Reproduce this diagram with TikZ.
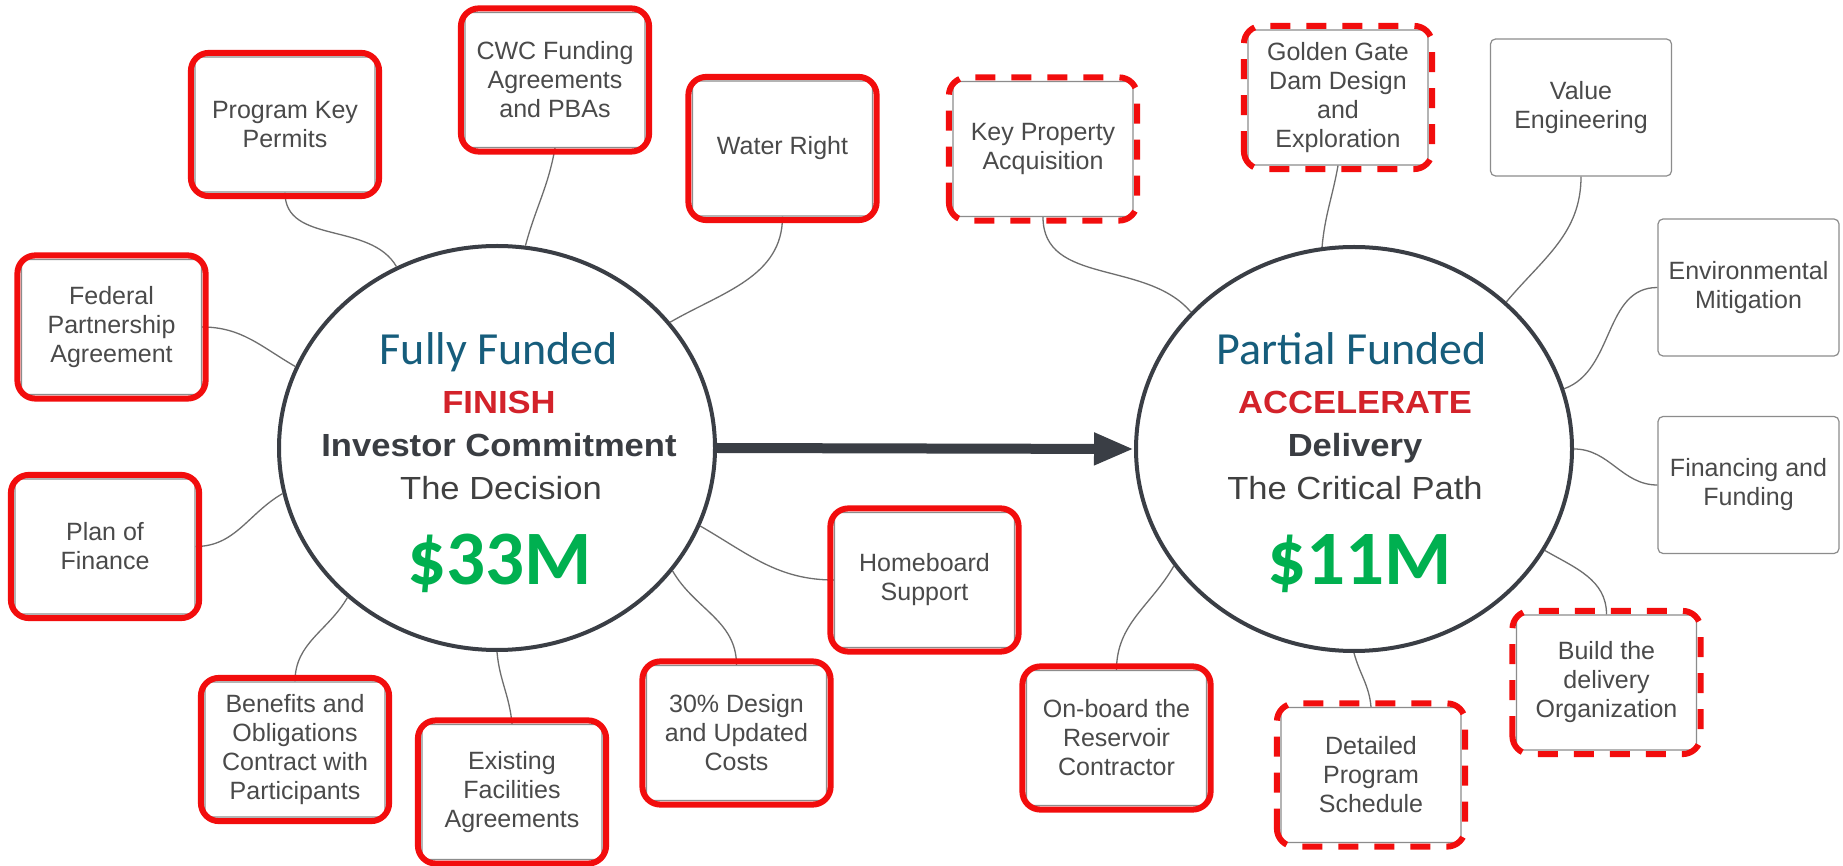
\documentclass[tikz,border=0pt]{standalone}
\usepackage{fontspec}
\setmainfont{Liberation Sans}
\newfontfamily\boxfont{Liberation Sans}
\newfontfamily\circfont[FakeStretch=1.08]{Liberation Sans}
\newfontfamily\calfont{Carlito}
\usetikzlibrary{shapes.geometric,arrows.meta}
\definecolor{boxgray}{HTML}{8C8C8C}
\definecolor{boxtext}{HTML}{4A4A4A}
\definecolor{frred}{HTML}{F20D0D}
\definecolor{circline}{HTML}{3A3E45}
\definecolor{conn}{HTML}{6E6E6E}
\definecolor{teal}{HTML}{165D7C}
\definecolor{finred}{HTML}{D3222A}
\definecolor{darktx}{HTML}{3A3D42}
\definecolor{regtx}{HTML}{404040}
\definecolor{money}{HTML}{00B050}
\newcommand\rframe[2]{\draw[#1] ([shift={(-3.5,-3.5)}]#2.south west) rectangle ([shift={(3.5,3.5)}]#2.north east);}
\tikzset{
  box/.style={draw=boxgray, line width=1.2pt, rounded corners=5pt, fill=white,
    minimum width=180pt, minimum height=135pt, align=center, inner sep=0pt,
    text=boxtext, font=\boxfont\fontsize{25}{29}\selectfont},
  graybox/.style={box, minimum width=181pt, minimum height=137pt},
  rsolid/.style={draw=frred, line width=6pt, rounded corners=18pt},
  rdash/.style={rsolid, dash pattern=on 20pt off 16pt},
  hub/.style={ellipse, draw=circline, line width=4pt, fill=white,
    minimum width=436pt, minimum height=404pt, inner sep=0pt},
  link/.style={draw=conn, line width=1.3pt},
  bigarrow/.style={draw=circline, line width=10pt, -{Triangle[length=40pt,width=30pt]}},
  tfund/.style={anchor=base, text=teal, font=\calfont\fontsize{46}{46}\selectfont},
  tkey/.style={anchor=base, text=finred, font=\circfont\bfseries\fontsize{32}{32}\selectfont},
  tbold/.style={anchor=base, text=darktx, font=\circfont\bfseries\fontsize{32}{32}\selectfont},
  treg/.style={anchor=base, text=regtx, font=\circfont\fontsize{32}{32}\selectfont},
  tmoney/.style={anchor=base, text=money, font=\calfont\bfseries\fontsize{77}{77}\selectfont},
}
\begin{document}
\begin{tikzpicture}[x=1pt,y=1pt]
\useasboundingbox (0,0) rectangle (1843,865);
\fill[white] (0,0) rectangle (1843,865);

% hubs
\node[hub] (L) at (497,417) {};
\node[hub] (R) at (1354,416) {};

% boxes
\node[box] (pkp) at (285,740.5) {Program Key\\Permits};
\node[box] (cwc) at (555,785) {CWC Funding\\Agreements\\and PBAs};
\node[box] (water) at (782.5,716.5) {Water Right};
\node[box] (fed) at (111.5,538) {Federal\\Partnership\\Agreement};
\node[box] (plan) at (105,318.5) {Plan of\\Finance};
\node[box] (ben) at (295,115.5) {Benefits and\\Obligations\\Contract with\\Participants};
\node[box] (exist) at (512,73) {Existing\\Facilities\\Agreements};
\node[box] (des) at (736.5,132) {30\% Design\\and Updated\\Costs};
\node[box] (home) at (924.5,285) {Homeboard\\Support};
\node[box] (kpa) at (1043,716) {Key Property\\Acquisition};
\node[box] (gg) at (1338,767.5) {Golden Gate\\Dam Design\\and\\Exploration};
\node[graybox] (ve) at (1581,757.5) {Value\\Engineering};
\node[graybox] (env) at (1748.5,577.5) {Environmental\\Mitigation};
\node[graybox] (fin) at (1748.5,380) {Financing and\\Funding};
\node[box] (build) at (1606.5,182.5) {Build the\\delivery\\Organization};
\node[box] (sched) at (1371,90) {Detailed\\Program\\Schedule};
\node[box] (onb) at (1116.5,127) {On-board the\\Reservoir\\Contractor};

% connectors
\draw[link] (pkp.south) to[out=-90,in=120] (L.119);
\draw[link] (cwc.south) to[out=-100,in=75] (L.82);
\draw[link] (water.south) to[out=-90,in=30] (L.36);
\draw[link] (fed.east) to[out=0,in=150] (L.158);
\draw[link] (plan.east) to[out=0,in=210] (L.192);
\draw[link] (ben.north) to[out=90,in=240] (L.225);
\draw[link] (exist.north) to[out=95,in=-85] (L.270);
\draw[link] (des.north) to[out=90,in=-60] (L.325);
\draw[link] (home.west) to[out=180,in=-30] (L.339);
\draw[link] (kpa.south) to[out=-90,in=130] (R.140);
\draw[link] (gg.south) to[out=-100,in=85] (R.99);
\draw[link] (ve.south) to[out=-90,in=50] (R.44);
\draw[link] (env.west) to[out=180,in=20] (R.16);
\draw[link] (fin.west) to[out=180,in=0] (R.0);
\draw[link] (build.north) to[out=90,in=-30] (R.332);
\draw[link] (sched.north) to[out=95,in=-75] (R.270);
\draw[link] (onb.north) to[out=90,in=240] (R.213);

% red frames
\rframe{rsolid}{pkp}
\rframe{rsolid}{cwc}
\rframe{rsolid}{water}
\rframe{rsolid}{fed}
\rframe{rsolid}{plan}
\rframe{rsolid}{ben}
\rframe{rsolid}{exist}
\rframe{rsolid}{des}
\rframe{rsolid}{home}
\rframe{rsolid}{onb}
\rframe{rdash}{kpa}
\rframe{rdash}{gg}
\rframe{rdash}{build}
\rframe{rdash}{sched}

% main arrow
\draw[bigarrow] (L.east) -- (R.west);

% hub texts
\node[tfund] (l1) at (499,500) {Fully Funded};
\node[tkey] (l2) at (499,451) {FINISH};
\node[tbold] (l3) at (499,408) {Investor Commitment};
\node[treg] (l4) at (501,365) {The Decision};
\node[tmoney] (l5) at (500,280) {\$33M};

\node[tfund] (r1) at (1352,500) {Partial Funded};
\node[tkey] (r2) at (1355,451) {ACCELERATE};
\node[tbold] (r3) at (1355,408) {Delivery};
\node[treg] (r4) at (1355,365) {The Critical Path};
\node[tmoney] (r5) at (1360,280) {\$11M};
\end{tikzpicture}
\end{document}
